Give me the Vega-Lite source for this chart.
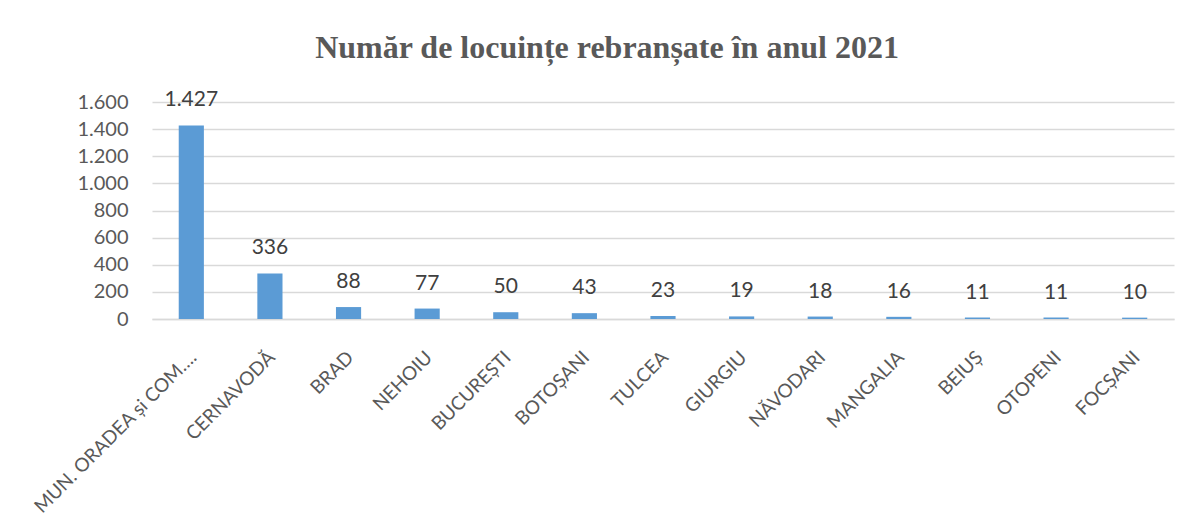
{
  "$schema": "https://vega.github.io/schema/vega-lite/v6.json",
  "autosize": {"type": "none"},
  "width": 1022,
  "height": 217,
  "padding": {"left": 152, "top": 102, "right": 19, "bottom": 205},
  "background": "white",
  "config": {
    "view": {"stroke": null},
    "locale": {"number": {"decimal": ",", "thousands": ".", "grouping": [3], "currency": ["", ""]}}
  },
  "title": {
    "text": "Număr de locuințe rebranșate în anul 2021",
    "font": "Liberation Serif",
    "fontSize": 32,
    "fontWeight": "bold",
    "color": "#595959",
    "anchor": "middle",
    "offset": 24,
    "dx": -56
  },
  "data": {
    "values": [
      {"loc": "MUN. ORADEA și COM….", "n": 1427},
      {"loc": "CERNAVODĂ", "n": 336},
      {"loc": "BRAD", "n": 88},
      {"loc": "NEHOIU", "n": 77},
      {"loc": "BUCUREȘTI", "n": 50},
      {"loc": "BOTOȘANI", "n": 43},
      {"loc": "TULCEA", "n": 23},
      {"loc": "GIURGIU", "n": 19},
      {"loc": "NĂVODARI", "n": 18},
      {"loc": "MANGALIA", "n": 16},
      {"loc": "BEIUȘ", "n": 11},
      {"loc": "OTOPENI", "n": 11},
      {"loc": "FOCȘANI", "n": 10}
    ]
  },
  "encoding": {
    "x": {
      "field": "loc",
      "type": "nominal",
      "sort": null,
      "scale": {"paddingInner": 0.68, "paddingOuter": 0.34},
      "axis": {
        "title": null,
        "labelAngle": -45,
        "labelAlign": "right",
        "labelBaseline": "middle",
        "labelFont": "Lato",
        "labelFontSize": 19,
        "labelColor": "#595959",
        "labelPadding": 35,
        "labelOffset": 2,
        "labelLimit": 400,
        "ticks": false,
        "domainColor": "#d9d9d9",
        "domainWidth": 1.5
      }
    },
    "y": {
      "field": "n",
      "type": "quantitative",
      "scale": {"domain": [0, 1600]},
      "axis": {
        "title": null,
        "values": [0, 200, 400, 600, 800, 1000, 1200, 1400, 1600],
        "format": ",d",
        "labelFont": "Lato",
        "labelFontSize": 20,
        "labelColor": "#595959",
        "labelPadding": 24,
        "ticks": false,
        "domain": false,
        "gridColor": "#d9d9d9",
        "gridWidth": 1.5
      }
    }
  },
  "layer": [
    {"mark": {"type": "bar", "color": "#5b9bd5"}},
    {
      "mark": {
        "type": "text",
        "baseline": "alphabetic",
        "dy": -19,
        "font": "Lato",
        "fontSize": 21,
        "color": "#404040"
      },
      "encoding": {"text": {"field": "n", "type": "quantitative", "format": ",d"}}
    }
  ]
}
